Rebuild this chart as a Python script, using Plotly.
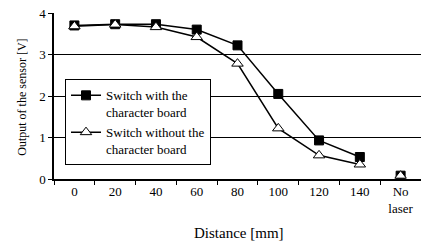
import plotly.graph_objects as go

categories = ["0", "20", "40", "60", "80", "100", "120", "140", "No<br>laser"]
with_board = [3.70, 3.73, 3.73, 3.60, 3.22, 2.05, 0.93, 0.53, 0.08]
without_board = [3.68, 3.72, 3.66, 3.42, 2.78, 1.22, 0.57, 0.35, 0.08]
series_names = ["Switch with the<br>character board", "Switch without the<br>character board"]
y_ticks = [0, 1, 2, 3, 4]
x_title = "Distance [mm]"
y_title = "Output of the sensor [V]"

font = "Liberation Serif, Times New Roman, serif"

fig = go.Figure()
# connected parts (distance measurements)
fig.add_trace(go.Scatter(
    x=categories[:-1], y=with_board[:-1], mode="lines+markers", name=series_names[0],
    line=dict(color="black", width=1.5),
    marker=dict(symbol="square", size=9, color="black", line=dict(color="black", width=1)),
))
fig.add_trace(go.Scatter(
    x=categories[:-1], y=without_board[:-1], mode="lines+markers", name=series_names[1],
    line=dict(color="black", width=1.5),
    marker=dict(symbol="triangle-up", size=10, color="white", line=dict(color="black", width=1)),
))
# "No laser" points, not connected
fig.add_trace(go.Scatter(
    x=categories[-1:], y=with_board[-1:], mode="markers", showlegend=False,
    marker=dict(symbol="square", size=9, color="black", line=dict(color="black", width=1)),
))
fig.add_trace(go.Scatter(
    x=categories[-1:], y=without_board[-1:], mode="markers", showlegend=False,
    marker=dict(symbol="triangle-up", size=10, color="white", line=dict(color="black", width=1)),
))

fig.update_layout(
    width=421, height=248,
    margin=dict(l=54, r=0, t=13, b=69, autoexpand=False),
    paper_bgcolor="white", plot_bgcolor="white",
    font=dict(family=font, size=13, color="black"),
    showlegend=True,
    legend=dict(
        x=0.03, y=0.6, xanchor="left", yanchor="top",
        bordercolor="black", borderwidth=1, bgcolor="white",
        font=dict(family=font, size=13, color="black"),
        tracegroupgap=0, itemwidth=30, valign="top",
    ),
    xaxis=dict(
        type="category", categoryorder="array", categoryarray=categories,
        range=[-0.5, 8.5], automargin=False,
        showline=True, linecolor="black", linewidth=1.5,
        ticks="outside", tickson="boundaries", ticklen=4, tickcolor="black",
        showgrid=False,
        tickfont=dict(family=font, size=13),
    ),
    yaxis=dict(
        range=[0, 4], tickvals=y_ticks, automargin=False,
        showline=True, linecolor="black", linewidth=1.5,
        ticks="outside", ticklen=4, tickcolor="black",
        showgrid=True, gridcolor="black", gridwidth=1,
        zeroline=False,
        tickfont=dict(family=font, size=13),
    ),
    annotations=[
        dict(text=x_title, xref="paper", yref="paper", x=0.505, y=-0.325,
             xanchor="center", yanchor="middle", showarrow=False,
             font=dict(family=font, size=15)),
        dict(text=y_title, xref="paper", yref="paper", x=-0.087, y=0.49,
             xanchor="center", yanchor="middle", showarrow=False, textangle=-90,
             font=dict(family=font, size=12)),
    ],
)

fig.write_html(
    "out.html",
    config={"displayModeBar": False},
    post_script="document.body.style.margin='0';document.body.style.overflow='hidden';",
)
